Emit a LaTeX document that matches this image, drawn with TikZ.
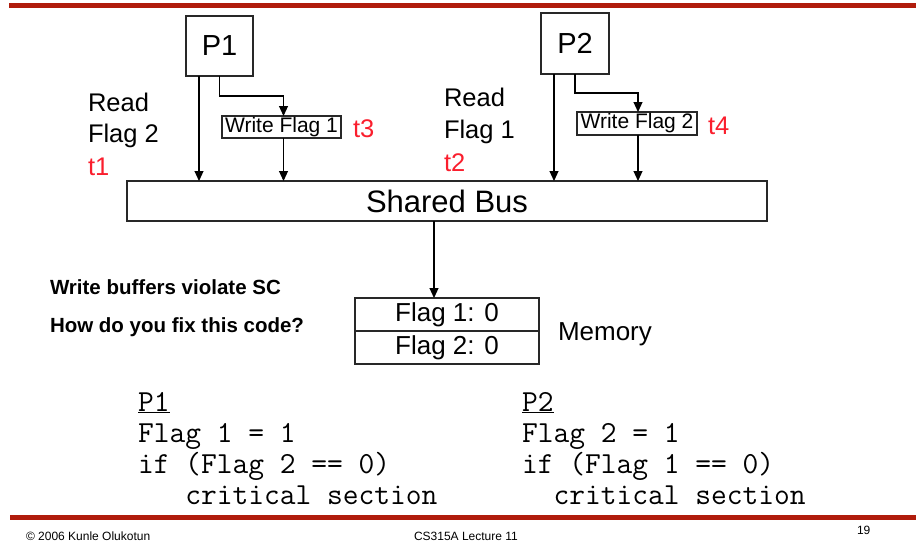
\documentclass[tikz,border=0pt]{standalone}
\usepackage{fontspec}
\setmainfont{Liberation Sans}
\usetikzlibrary{arrows.meta,calc}
\definecolor{barred}{RGB}{176,28,12}
\definecolor{tred}{RGB}{250,30,45}
\definecolor{edge}{RGB}{40,40,40}
\newcommand{\fsz}[1]{\fontsize{#1}{#1}\selectfont}
\begin{document}
\begin{tikzpicture}[x=1pt,y=-1pt,
  box/.style={draw=edge,line width=1.2pt,inner sep=0pt,outer sep=0pt,anchor=north west},
  arr/.style={draw=black,line width=1.1pt,-{Triangle[length=10pt,width=9pt]}},
  txt/.style={anchor=base west,inner sep=0pt,outer sep=0pt},
  lbl/.style={txt,font=\fsz{25.5}},
  tlbl/.style={txt,font=\fsz{25.5},text=tred},
  code/.style={txt,font=\ttfamily\fsz{30.6}},
  note/.style={txt,font=\bfseries\fsz{20.5}},
  foot/.style={txt,font=\fsz{12}}]
\useasboundingbox (0,0) rectangle (916,544);

% title and footer rules
\fill[barred] (9,3) rectangle (916,8);
\fill[barred] (10,515) rectangle (916,520);

% processors, write buffers, bus and memory
\node[box,minimum width=67pt,minimum height=60pt,font=\fsz{29}] (p1) at (186,16) {P1};
\node[box,minimum width=68pt,minimum height=61pt,font=\fsz{29}] (p2) at (541,13) {P2};
\node[box,minimum width=119pt,minimum height=22pt,font=\fsz{21}] (wf1) at (222,116) {Write Flag 1};
\node[box,minimum width=120pt,minimum height=23pt,font=\fsz{21}] (wf2) at (577,112) {Write Flag 2};
\node[box,minimum width=640pt,minimum height=40pt,font=\fsz{31}] (bus) at (127,181) {Shared Bus};
\node[box,minimum width=184pt,minimum height=33pt,font=\fsz{26}] (mem1) at (355,298) {Flag 1: 0};
\node[box,minimum width=184pt,minimum height=33pt,font=\fsz{26}] (mem2) at (355,331) {Flag 2: 0};

% connectors
\draw[arr] ([xshift=-20.5pt]p1.south) -- ([xshift=-20.5pt]p1.south |- bus.north);
\draw[arr] (p1.south) |- ([xshift=2pt,yshift=20pt]wf1.north) -- ([xshift=2pt]wf1.north);
\draw[arr] ([xshift=2pt]wf1.south) -- ([xshift=2pt]wf1.south |- bus.north);
\draw[arr] ([xshift=-21pt]p2.south) -- ([xshift=-21pt]p2.south |- bus.north);
\draw[arr] (p2.south) |- ([xshift=1pt,yshift=19pt]wf2.north) -- ([xshift=1pt]wf2.north);
\draw[arr] ([xshift=1pt]wf2.south) -- ([xshift=1pt]wf2.south |- bus.north);
\draw[arr] ([xshift=-13pt]bus.south) -- ([xshift=-13pt]mem1.north);

% access labels
\node[lbl] (r1a) at (88,111) {Read};
\node[lbl] (r1b) at (88,142) {Flag 2};
\node[tlbl] (t1) at (88,175) {t1};
\node[lbl] (r2a) at (444,106) {Read};
\node[lbl] (r2b) at (444,138) {Flag 1};
\node[tlbl] (t2) at (444,171) {t2};
\node[tlbl] (t3) at (353,137) {t3};
\node[tlbl] (t4) at (708,134) {t4};
\node[lbl,font=\fsz{26}] (memlbl) at (558,340) {Memory};

% notes
\node[note] (n1) at (50,294) {Write buffers violate SC};
\node[note] (n2) at (50,332) {How do you fix this code?};

% code for both processors
\node[code] (c1a) at (138,411) {\underline{P1}};
\node[code] (c1b) at (138,442) {Flag 1 = 1};
\node[code] (c1c) at (138,473) {if (Flag 2 == 0)};
\node[code] (c1d) at (138,504) {\hphantom{000}critical section};
\node[code] (c2a) at (522,411) {\underline{P2}};
\node[code] (c2b) at (522,442) {Flag 2 = 1};
\node[code] (c2c) at (522,473) {if (Flag 1 == 0)};
\node[code] (c2d) at (522,504) {\hphantom{00}critical section};

% footer
\node[foot] (f1) at (26,540) {© 2006 Kunle Olukotun};
\node[foot] (f2) at (414,540) {CS315A Lecture 11};
\node[foot] (f3) at (857,534) {19};
\end{tikzpicture}
\end{document}
